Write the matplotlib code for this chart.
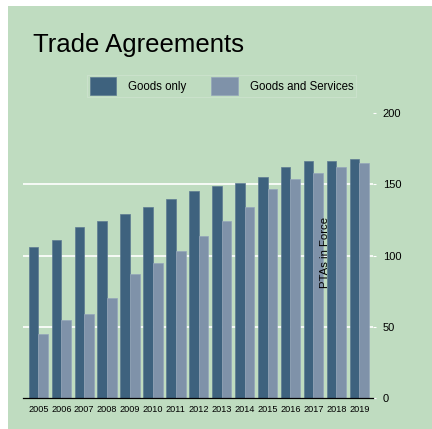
import numpy as np
import matplotlib
matplotlib.use("Agg")
import matplotlib.pyplot as plt
from matplotlib.patches import Rectangle

plt.rcParams['font.family'] = ['Liberation Sans', 'DejaVu Sans']

# data
years = ['2005', '2006', '2007', '2008', '2009', '2010', '2011', '2012',
         '2013', '2014', '2015', '2016', '2017', '2018', '2019']
goods_only = [106, 111, 120, 124, 129, 134, 140, 145, 149, 151, 155, 162, 166, 166, 168]
goods_services = [45, 55, 59, 70, 87, 95, 103, 114, 124, 134, 147, 154, 158, 162, 165]

bg = '#bfdcc0'
dark = '#3e627e'
light = '#7f92a9'

fig = plt.figure(figsize=(4.32, 4.29), dpi=100)
fig.patch.set_facecolor('white')
# green graph region (small white margin top/left)
fig.patches.append(Rectangle((8 / 432, -0.05), 1.1, 1.05 - 6 / 429, transform=fig.transFigure,
                             facecolor=bg, edgecolor='none', zorder=-10))

ax = fig.add_axes([23 / 432, 31 / 429, 350 / 432, 285 / 429])
ax.set_facecolor(bg)

x = np.arange(len(years))
w = 0.42
ax.bar(x - w / 2, goods_only, width=w, color=dark, edgecolor='#5d7b92', linewidth=0.5,
       label='Goods only', zorder=3)
ax.bar(x + w / 2, goods_services, width=w, color=light, edgecolor='#95a6ba', linewidth=0.5,
       label='Goods and Services', zorder=3)

ax.set_xlim(-0.67, 14.6)
ax.set_ylim(0, 200)
ax.set_yticks([0, 50, 100, 150, 200])
ax.set_xticks(x)
ax.set_xticklabels(years, fontsize=6.6)
ax.yaxis.tick_right()
ax.tick_params(axis='y', length=2, color='white', pad=5, labelsize=8)
ax.tick_params(axis='x', length=0, pad=5)

for v in [50, 100, 150]:
    ax.axhline(v, color='white', linewidth=1.2, zorder=1)

for s in ['top', 'left', 'right']:
    ax.spines[s].set_visible(False)
ax.spines['bottom'].set_color('black')
ax.spines['bottom'].set_linewidth(0.9)
ax.spines['bottom'].set_zorder(4)

fig.text(33 / 432, 1 - 45 / 429, 'Trade Agreements', fontsize=18.5, va='center', ha='left')
fig.text(325 / 432, 1 - 252 / 429, 'PTAs in Force', fontsize=8.2, rotation=90,
         va='center', ha='center')

leg = fig.legend(loc='center', bbox_to_anchor=(221.5 / 432, 1 - 86 / 429), ncol=2,
                 fontsize=8.3, handlelength=2.3, handleheight=1.9, handletextpad=1.0,
                 columnspacing=2.2, frameon=True, fancybox=False, borderpad=0.25)
leg.get_frame().set_facecolor(bg)
leg.get_frame().set_edgecolor('#cde3ce')
leg.get_frame().set_linewidth(0.8)

fig.savefig('out.png', dpi=100, facecolor=fig.get_facecolor())
